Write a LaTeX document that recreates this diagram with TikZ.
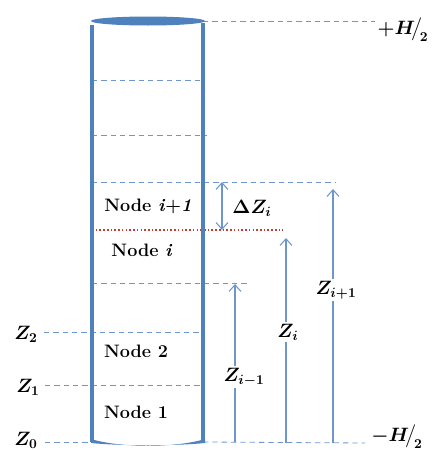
\documentclass[tikz,border=0pt]{standalone}
\usepackage{fix-cm}
\usepackage{amsmath}
\usetikzlibrary{arrows.meta}
\definecolor{cylblue}{RGB}{79,129,189}
\definecolor{dashblue}{RGB}{110,150,205}
\definecolor{dotred}{RGB}{200,60,50}
\tikzset{
  wall/.style={cylblue, line width=2.4pt},
  guide/.style={dashblue, line width=0.6pt, dash pattern=on 4pt off 3pt},
  redguide/.style={dotred, line width=1.2pt, dash pattern=on 1.2pt off 1.6pt},
  zarrow/.style={dashblue, line width=0.8pt, -{Straight Barb[length=5pt,width=9pt]}},
  darrow/.style={dashblue, line width=0.8pt, {Straight Barb[length=5pt,width=9pt]}-{Straight Barb[length=5pt,width=9pt]}},
  zline/.style={dashblue, line width=0.8pt},
  lbl/.style={font=\fontsize{13.5}{15}\selectfont\bfseries, inner sep=1pt},
  mlbl/.style={font=\fontsize{14.5}{16}\selectfont\boldmath, inner sep=1pt},
}
\begin{document}
\begin{tikzpicture}[x=0.75pt,y=-0.75pt]
\useasboundingbox (0,0) rectangle (436,450);
% coordinates
\coordinate (TL) at (92,21);
\coordinate (TR) at (203,21);
\coordinate (BL) at (92,442);
\coordinate (BR) at (203,442);
% guide lines
\coordinate (hR) at (375,21);
\draw[guide] (TR) -- (hR);
\coordinate (a1) at (92,80); \coordinate (a2) at (205,80);
\draw[guide] (a1) -- (a2);
\coordinate (b1) at (92,135); \coordinate (b2) at (207,135);
\draw[guide] (b1) -- (b2);
\coordinate (c1) at (92,182); \coordinate (c2) at (335,182);
\draw[guide] (c1) -- (c2);
\coordinate (d1) at (92,283); \coordinate (d2) at (249,283);
\draw[guide] (d1) -- (d2);
\coordinate (e1) at (44,332); \coordinate (e2) at (203,332);
\draw[guide] (e1) -- (e2);
\coordinate (f1) at (45,385); \coordinate (f2) at (203,385);
\draw[guide] (f1) -- (f2);
\coordinate (g1) at (45,442);
\draw[guide] (g1) -- (BL);
\coordinate (g2) at (365,443);
\draw[guide] (BR) -- (g2);
\coordinate (r1) at (92,230); \coordinate (r2) at (283,230);
\draw[redguide] (r1) -- (r2);
% cylinder walls
\draw[wall] (92,25) -- (BL);
\draw[wall] (203,23) -- (BR);
\fill[cylblue] (148,21) ellipse [x radius=57, y radius=4.5];
\fill[cylblue] (91,439) .. controls (120,448) and (176,448) .. (205,439) -- (205,443) .. controls (176,446) and (120,446) .. (91,443) -- cycle;
% labels
\node[mlbl] (hp) at (403,30) {$+H\!\big/_{\!2}$};
\node[mlbl] (hm) at (397,437) {$-H\!\big/_{\!2}$};
\node[mlbl] (z2) at (26,334) {$Z_2$};
\node[mlbl] (z1) at (28,387) {$Z_1$};
\node[mlbl] (z0) at (26,440) {$Z_0$};
\node[lbl] (n4) at (148,206) {Node \textit{i}+\textit{1}};
\node[lbl] (n3) at (142,250) {Node \textit{i}};
\node[lbl] (n2) at (136,351) {Node 2};
\node[lbl] (n1) at (136,412) {Node 1};
\node[mlbl] (dz) at (252,208) {$\Delta Z_i$};
\node[mlbl] (zip) at (336,290) {$Z_{i+1}$};
\node[mlbl] (zi) at (288,332) {$Z_i$};
\node[mlbl] (zim) at (244,377) {$Z_{i-1}$};
% arrows
\coordinate (dzT) at (222,182); \coordinate (dzB) at (222,230);
\draw[darrow] (dzT) -- (dzB);
\coordinate (p1) at (333,443); \coordinate (p2) at (333,189);
\draw[zline] (p1) -- (zip.south -| p1);
\draw[zarrow] (zip.north -| p1) -- (p2);
\coordinate (q1) at (286,443); \coordinate (q2) at (286,238);
\draw[zline] (q1) -- (zi.south -| q1);
\draw[zarrow] (zi.north -| q1) -- (q2);
\coordinate (s1) at (235,442); \coordinate (s2) at (235,284);
\draw[zline] (s1) -- (zim.south -| s1);
\draw[zarrow] (zim.north -| s1) -- (s2);
\end{tikzpicture}
\end{document}
